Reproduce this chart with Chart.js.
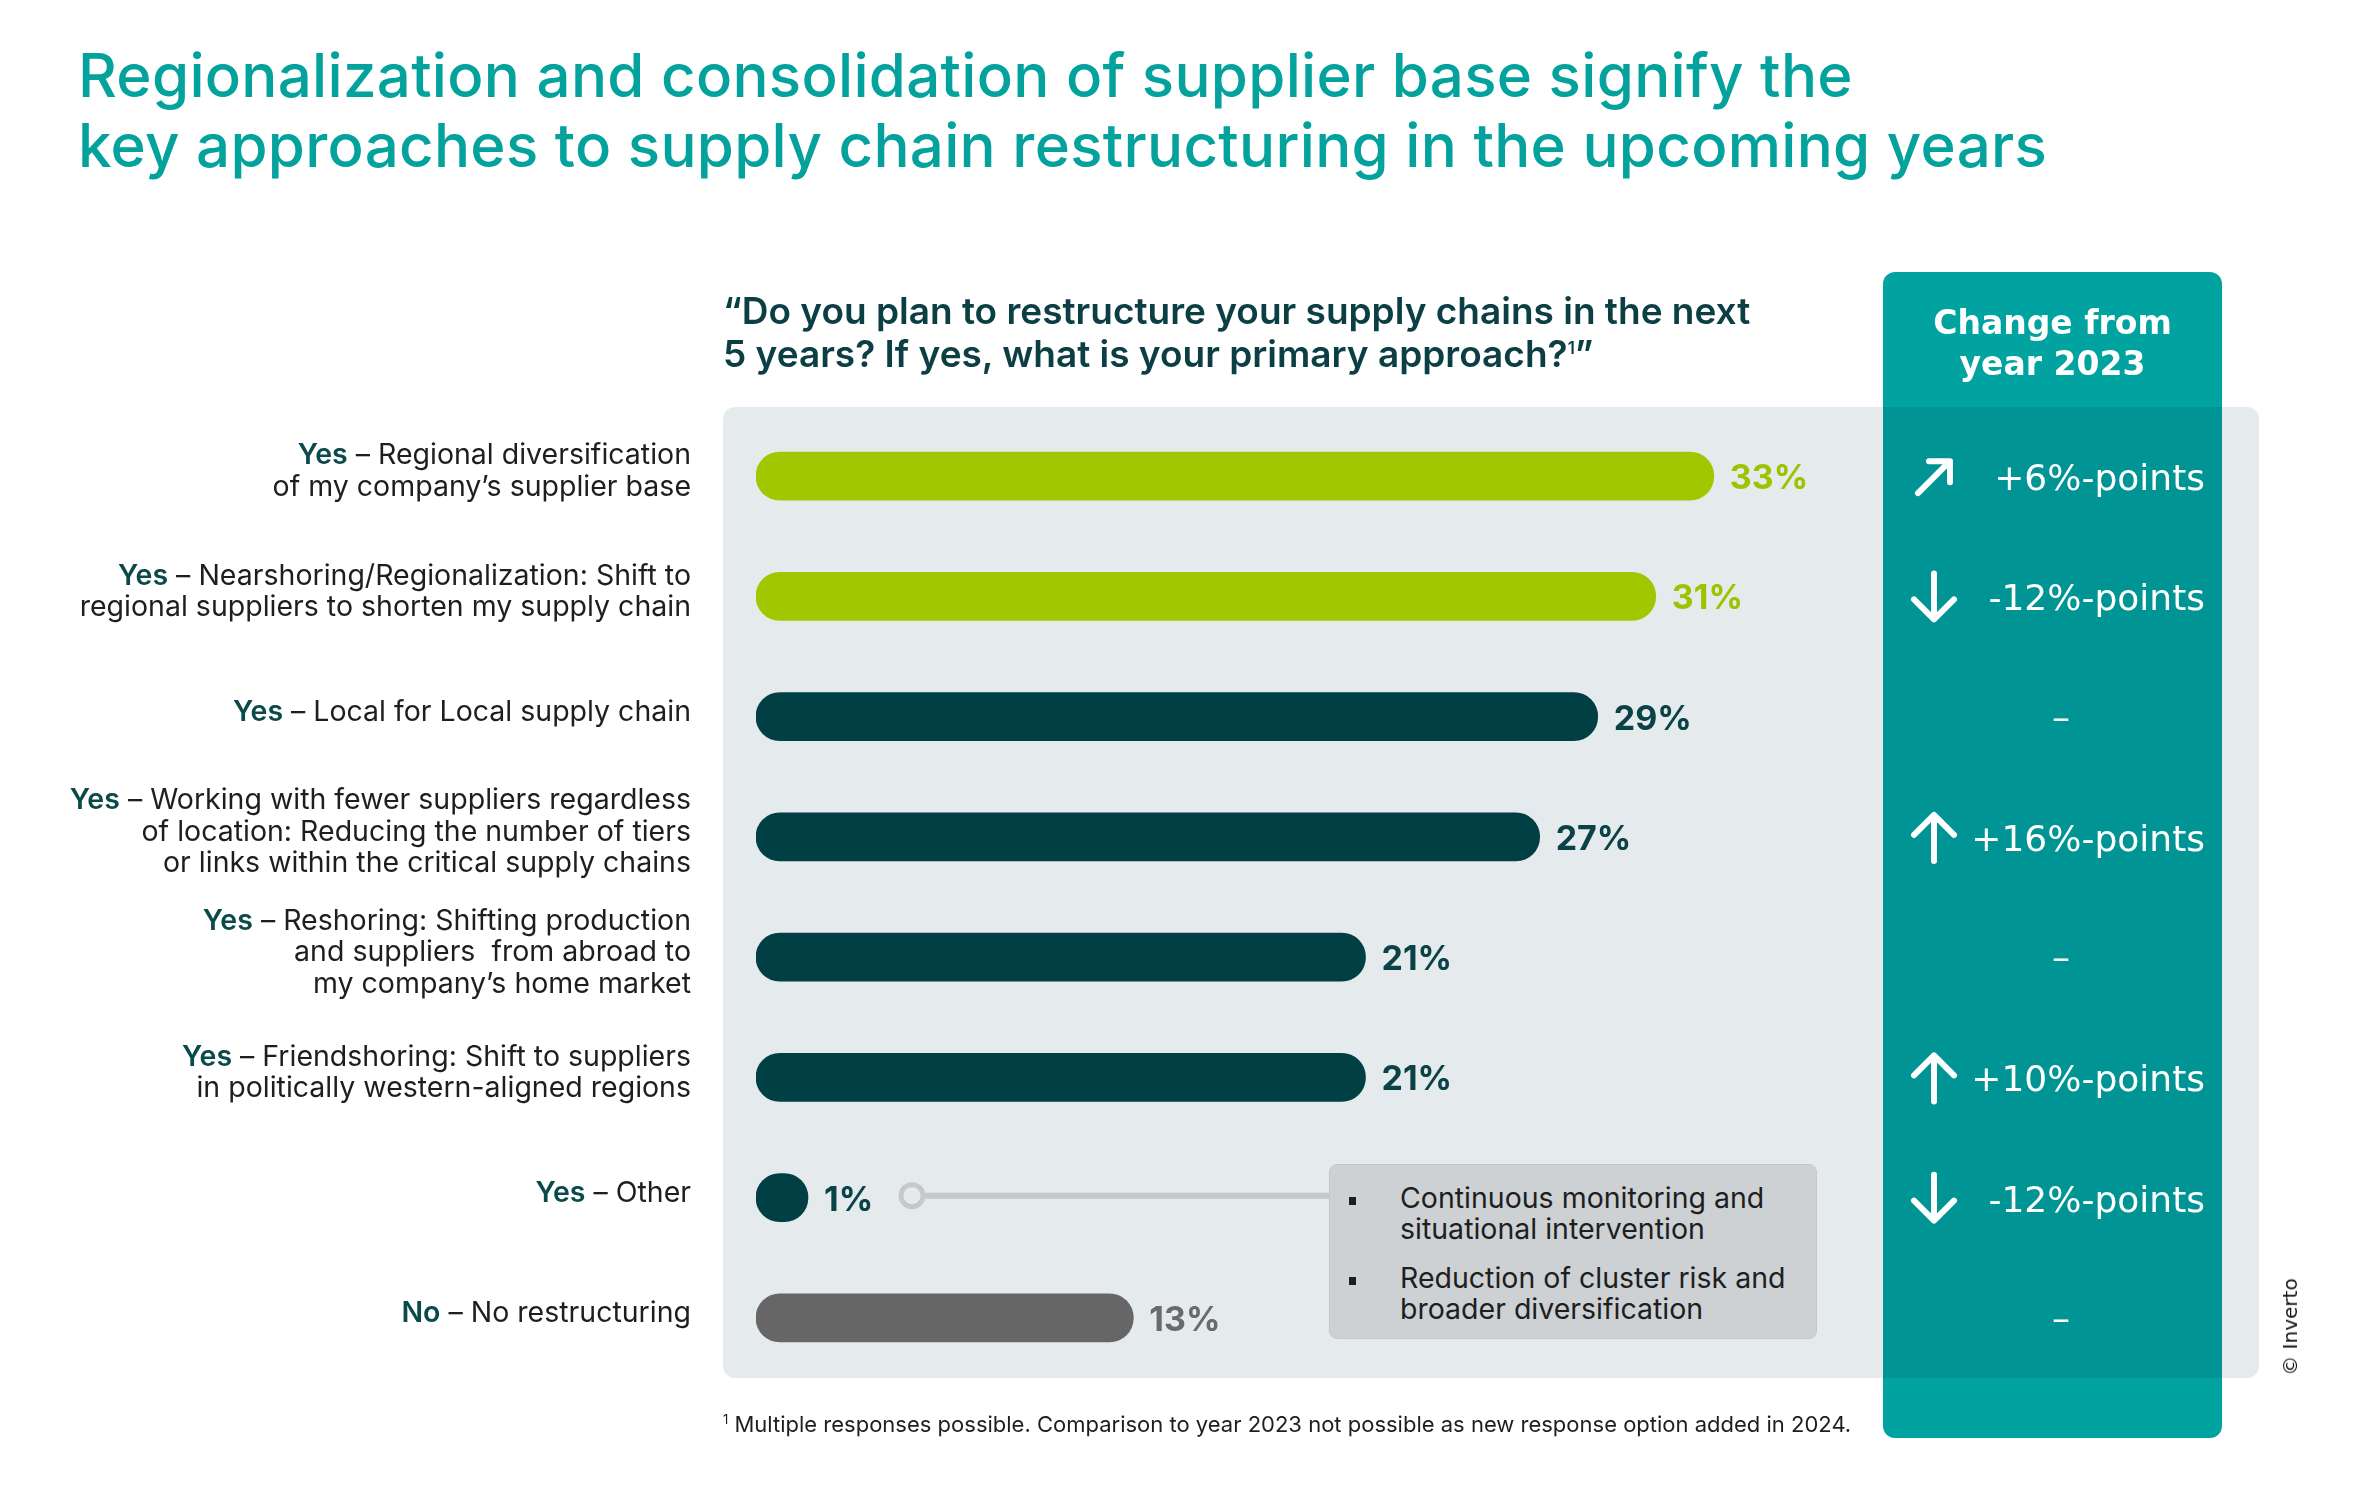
<!DOCTYPE html>
<html>
<head>
<meta charset="utf-8">
<script src="https://cdn.jsdelivr.net/npm/chart.js@4/dist/chart.umd.min.js"></script>
<style>
  body { margin: 0; background: #fff; }
  #wrap { position: relative; width: 2362px; height: 1497px; overflow: hidden; font-family: Inter, sans-serif; }
  #chart { position: absolute; left: 0; top: 0; }
  sup { line-height: 0; }
  .title { position: absolute; left: 78px; top: 40px; font-size: 60px; line-height: 70px; font-weight: 500; color: #04A29C; letter-spacing: 0.3px; white-space: nowrap; }
  .question { position: absolute; left: 723px; top: 289px; font-size: 37px; line-height: 43px; font-weight: 600; color: #0B3F44; white-space: nowrap; }
  .head { position: absolute; left: 1883px; width: 339px; top: 302px; text-align: center; font-family: "DejaVu Sans", sans-serif; font-weight: bold; font-size: 33px; line-height: 41px; color: #fff; }
  .note { position: absolute; left: 1329px; top: 1164px; width: 486px; height: 173px; background: #CDD1D4; border: 1px solid #C3C7CA; border-radius: 8px; }
  .note .item { position: absolute; left: 70px; font-size: 28.5px; line-height: 31px; color: #1E1E1E; white-space: nowrap; }
  .note .dot { position: absolute; left: 19px; width: 7px; height: 8px; background: #1E1E1E; }
  .foot { position: absolute; left: 723px; top: 1411px; font-size: 22px; line-height: 26px; color: #1E1E1E; white-space: nowrap; }
  .copy { position: absolute; left: 2290px; top: 1327px; transform: translate(-50%, -50%) rotate(-90deg); font-family: "DejaVu Sans", sans-serif; font-size: 20px; color: #111; white-space: nowrap; }
</style>
</head>
<body>
<div id="wrap">
  <canvas id="chart" width="2362" height="1497"></canvas>
  <div class="title">Regionalization and consolidation of supplier base signify the<br>key approaches to supply chain restructuring in the upcoming years</div>
  <div class="question">“Do you plan to restructure your supply chains in the next<br>5 years? If yes, what is your primary approach?<sup style="font-size:17px">1</sup>”</div>
  <div class="head">Change from<br>year 2023</div>
  <div class="note">
    <div class="dot" style="top:32px"></div>
    <div class="item" style="top:17px">Continuous monitoring and<br>situational intervention</div>
    <div class="dot" style="top:112px"></div>
    <div class="item" style="top:97px">Reduction of cluster risk and<br>broader diversification</div>
  </div>
  <div class="foot"><sup style="font-size:13px">1</sup> Multiple responses possible. Comparison to year 2023 not possible as new response option added in 2024.</div>
  <div class="copy">© Inverto</div>
</div>
<script>
// answer options (first word is set bold, rest of the lines follow)
const labelLead = ["Yes", "Yes", "Yes", "Yes", "Yes", "Yes", "Yes", "No"];
const labelLines = [
  ["Regional diversification", "of my company’s supplier base"],
  ["Nearshoring/Regionalization: Shift to", "regional suppliers to shorten my supply chain"],
  ["Local for Local supply chain"],
  ["Working with fewer suppliers regardless", "of location: Reducing the number of tiers", "or links within the critical supply chains"],
  ["Reshoring: Shifting production", "and suppliers  from abroad to", "my company’s home market"],
  ["Friendshoring: Shift to suppliers", "in politically western-aligned regions"],
  ["Other"],
  ["No restructuring"]
];
const shares = [33, 31, 29, 27, 21, 21, 1, 13];
const changeText = ["+6%-points", "-12%-points", "–", "+16%-points", "–", "+10%-points", "-12%-points", "–"];
const changeArrow = ["upright", "down", "", "up", "", "up", "down", ""];

const barColors = ["#9FC800", "#9FC800", "#003F44", "#003F44", "#003F44", "#003F44", "#003F44", "#666666"];
const valueColors = ["#9BC400", "#9BC400", "#0A4247", "#0A4247", "#0A4247", "#0A4247", "#0A4247", "#6A6A6A"];

const backdrop = {
  id: "backdrop",
  beforeDraw(chart) {
    const c = chart.ctx;
    c.save();
    c.fillStyle = "#E5EBEC";
    c.beginPath(); c.roundRect(723, 407, 1536, 971, 12); c.fill();
    c.fillStyle = "#00A39F";
    c.beginPath(); c.roundRect(1883, 272, 339, 1166, 12); c.fill();
    c.fillStyle = "#009594";
    c.fillRect(1883, 407, 339, 971);
    c.restore();
  }
};

function drawArrow(c, kind, x, y) {
  c.save();
  c.strokeStyle = "#fff";
  c.lineWidth = 6;
  c.lineCap = "round";
  c.lineJoin = "round";
  c.beginPath();
  if (kind === "up") {
    c.moveTo(x, y + 24); c.lineTo(x, y - 21);
    c.moveTo(x - 20, y - 2); c.lineTo(x, y - 22); c.lineTo(x + 20, y - 2);
  } else if (kind === "down") {
    c.moveTo(x, y - 23); c.lineTo(x, y + 22);
    c.moveTo(x - 20, y + 3); c.lineTo(x, y + 23); c.lineTo(x + 20, y + 3);
  } else if (kind === "upright") {
    c.moveTo(x - 16, y + 17); c.lineTo(x + 15, y - 14);
    c.moveTo(x - 5, y - 15); c.lineTo(x + 16, y - 15); c.lineTo(x + 16, y + 6);
  }
  c.stroke();
  c.restore();
}

const rowLabels = {
  id: "rowLabels",
  afterDatasetsDraw(chart) {
    const c = chart.ctx;
    const meta = chart.getDatasetMeta(0);
    const xs = chart.scales.x;
    const left = chart.chartArea.left - 65;
    c.save();
    c.textBaseline = "alphabetic";
    meta.data.forEach((bar, i) => {
      const cy = bar.y;
      const lines = labelLines[i];
      lines.forEach((ln, k) => {
        const ly = cy + 4 + (k - (lines.length - 1) / 2) * 31.5;
        c.textAlign = "right";
        c.font = "400 28.5px Inter";
        c.fillStyle = "#1E1E1E";
        if (k === 0) {
          const rest = " – " + ln;
          c.fillText(rest, left, ly);
          const w = c.measureText(rest).width;
          c.font = "600 28.5px Inter";
          c.fillStyle = "#0B4A4B";
          c.fillText(labelLead[i], left - w, ly);
        } else {
          c.fillText(ln, left, ly);
        }
      });

      c.textAlign = "left";
      c.font = "700 34px Inter";
      c.fillStyle = valueColors[i];
      c.fillText(shares[i] + "%", bar.x + 16, cy + 13);

      // change from 2023 column
      c.font = "36px 'DejaVu Sans'";
      c.fillStyle = "#fff";
      if (changeText[i] === "–") {
        c.textAlign = "center";
        c.fillText(changeText[i], 2061, cy + 13);
      } else {
        c.textAlign = "right";
        c.fillText(changeText[i], 2205, cy + 14);
        drawArrow(c, changeArrow[i], 1934, cy);
      }
    });

    // connector from "Other" to the note box
    const oy = meta.data[6].y - 2;
    const ox = xs.getPixelForValue(0) + 156;
    c.strokeStyle = "#C5C9CC";
    c.lineWidth = 6;
    c.beginPath(); c.moveTo(ox + 12, oy); c.lineTo(1330, oy); c.stroke();
    c.lineWidth = 5;
    c.beginPath(); c.arc(ox, oy, 11, 0, Math.PI * 2); c.stroke();
    c.restore();
  }
};

new Chart(document.getElementById("chart"), {
  type: "bar",
  data: {
    labels: labelLead.map((l, i) => l + " – " + labelLines[i].join(" ")),
    datasets: [{
      data: shares,
      backgroundColor: barColors,
      borderRadius: 24,
      borderSkipped: false,
      barThickness: 48,
      minBarLength: 52
    }]
  },
  options: {
    indexAxis: "y",
    responsive: false,
    animation: false,
    layout: { padding: { left: 756, right: 445, top: 416, bottom: 119 } },
    scales: {
      x: { min: 0, max: 40, display: false },
      y: { display: false }
    },
    plugins: { legend: { display: false }, tooltip: { enabled: false } }
  },
  plugins: [backdrop, rowLabels]
});
</script>
</body>
</html>
